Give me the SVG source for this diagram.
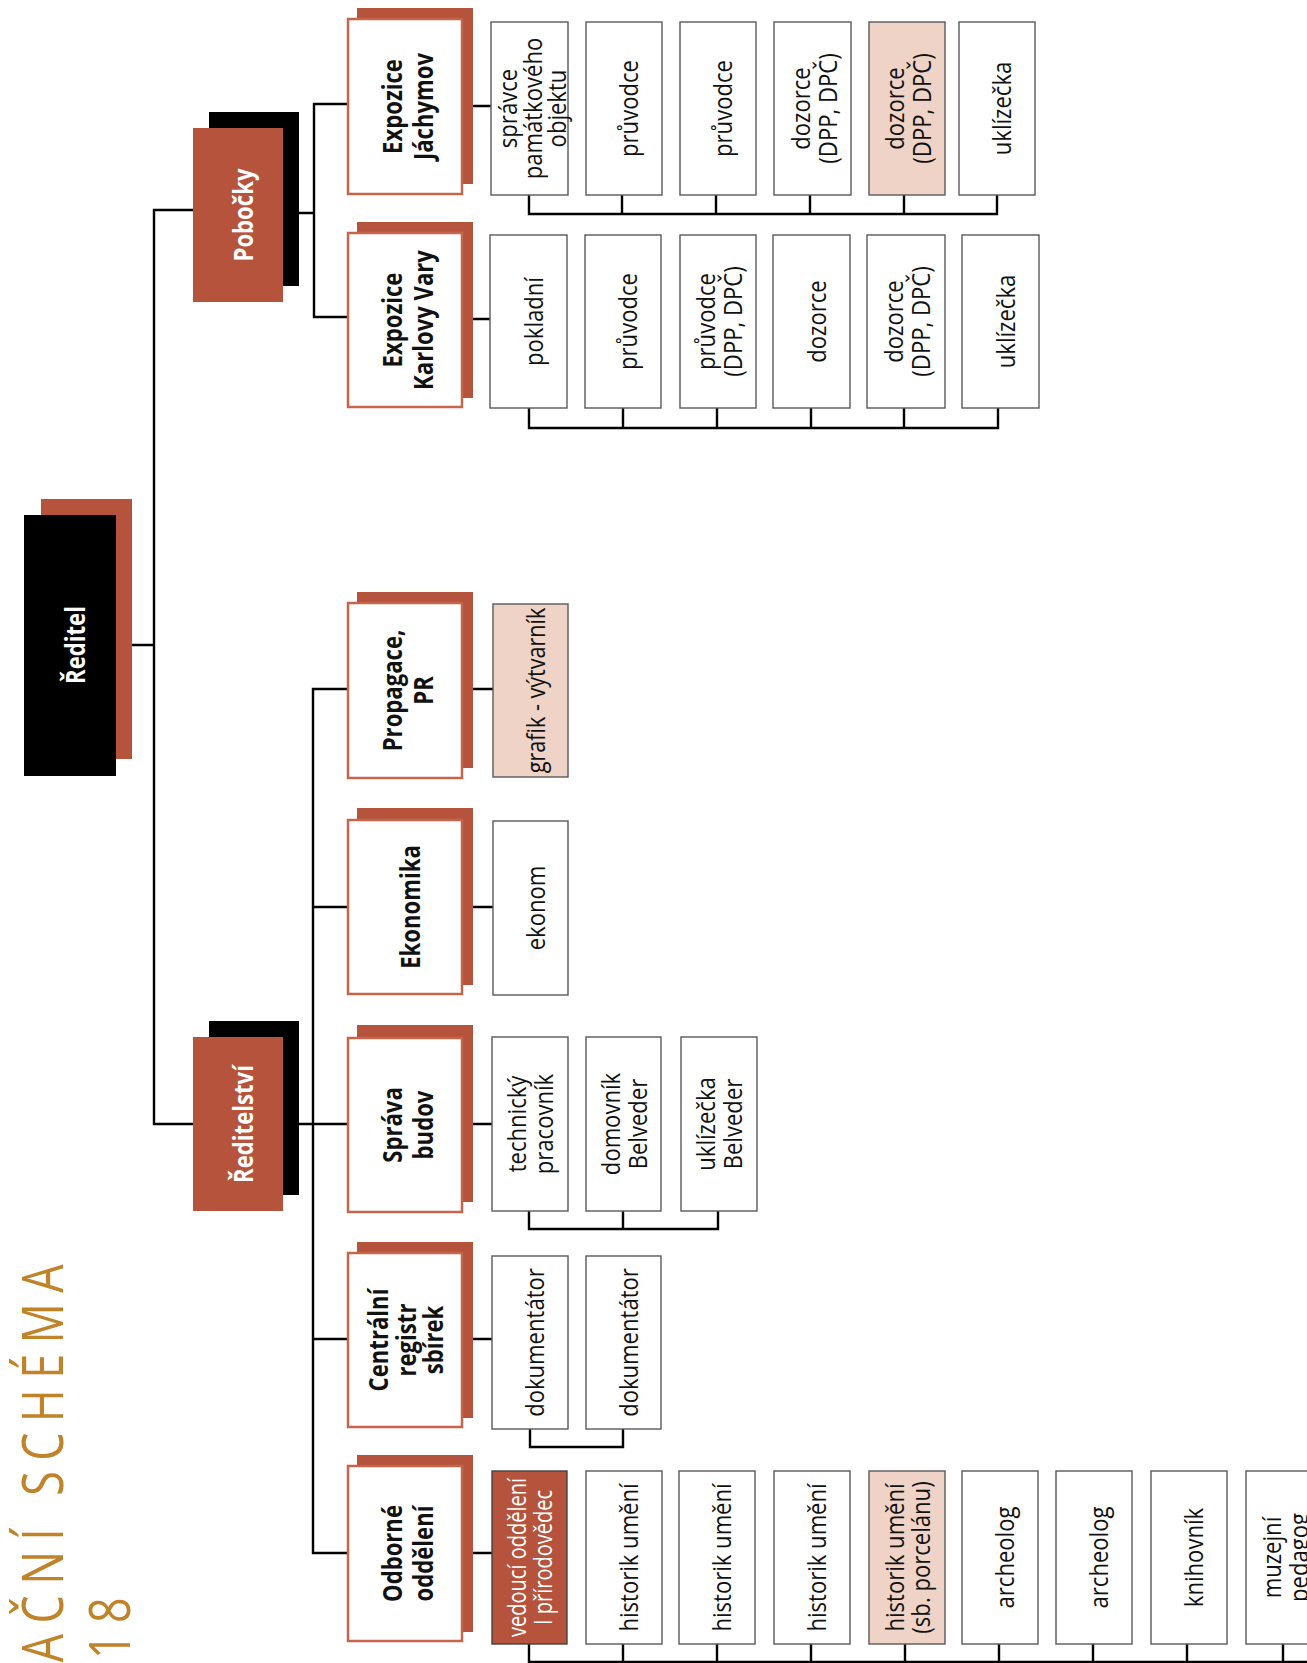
<svg xmlns="http://www.w3.org/2000/svg" width="1307" height="1663" viewBox="0 0 1307 1663">
<style>
.ln{stroke:#000;stroke-width:2.4;fill:none;stroke-linecap:square}
.dept{fill:#fff;stroke:#C5654C;stroke-width:2.5}
.sh{fill:#B5533C}
.blk{fill:#000}
.red{fill:#B5533C}
.ch{fill:#fff;stroke:#5a5a5a;stroke-width:1.4}
.pk{fill:#EFD3C6;stroke:#5a5a5a;stroke-width:1.4}
.chr{fill:#B5533C;stroke:#444;stroke-width:1.4}
text{font-family:"Open Sans","Noto Sans","DejaVu Sans",sans-serif;text-anchor:middle}
.t{font-size:26px;fill:#111}
.tw{font-size:26px;fill:#fff}
.b{font-size:27px;font-weight:bold;fill:#111}
.bw{font-size:27px;font-weight:bold;fill:#fff}
.title{font-size:56px;font-weight:400;fill:#C0832A;letter-spacing:13px;text-anchor:end}
</style>

<g id="title">
<text class="title" transform="translate(63,1254) rotate(-90) scale(0.8,1)">AČNÍ SCHÉMA</text>
<text class="title" transform="translate(130,1587) rotate(-90) scale(0.8,1)">18</text>
</g>

<g id="connectors">
<path class="ln" d="M132,645H154M154,210V1124M154,210H193M154,1124H193"/>
<path class="ln" d="M299,213H314M314,104V317M314,104H347M314,317H347"/>
<path class="ln" d="M473,106H491M529,195V214M622,195V214M716,195V214M810,195V214M904,195V214M997,195V214M529,214H997"/>
<path class="ln" d="M473,319H490M529,408V428M623,408V428M717,408V428M811,408V428M904,408V428M998,408V428M529,428H998"/>
<path class="ln" d="M299,1124H313M313,689V1553M313,689H347M313,907H347M313,1124H347M313,1339H347M313,1553H347"/>
<path class="ln" d="M473,689H493M473,907H493M473,1124H492M473,1339H492M473,1553H492"/>
<path class="ln" d="M529,1211V1229M623,1211V1229M718,1211V1229M529,1229H718"/>
<path class="ln" d="M530,1429V1447M623,1429V1447M530,1447H623"/>
<path class="ln" d="M529,1644V1662M623,1644V1662M717,1644V1662M811,1644V1662M905,1644V1662M999,1644V1662M1093,1644V1662M1187,1644V1662M1283,1644V1662M529,1662H1310"/>
</g>

<g id="reditel">
<rect class="red" x="41" y="499" width="91" height="260"/>
<rect class="blk" x="24" y="515" width="92" height="261"/>
<text class="bw" transform="translate(85,645) rotate(-90) scale(0.82,1)">Ředitel</text>
</g>

<g id="pobocky">
<rect class="blk" x="209" y="112" width="90" height="174"/>
<rect class="red" x="193" y="128" width="90" height="174"/>
<text class="bw" transform="translate(253,215) rotate(-90) scale(0.82,1)">Pobočky</text>
</g>

<g id="reditelstvi">
<rect class="blk" x="209" y="1021" width="90" height="174"/>
<rect class="red" x="193" y="1037" width="90" height="174"/>
<text class="bw" transform="translate(253,1124) rotate(-90) scale(0.82,1)">Ředitelství</text>
</g>

<g id="exp-jachymov">
<rect class="sh" x="357" y="8" width="116" height="176"/>
<rect class="dept" x="348" y="19" width="114" height="175"/>
<text class="b" transform="translate(402,106.5) rotate(-90) scale(0.82,1)"><tspan x="0">Expozice</tspan><tspan x="0" dy="31">Jáchymov</tspan></text>
</g>

<g id="exp-kv">
<rect class="sh" x="357" y="222" width="116" height="176"/>
<rect class="dept" x="348" y="233" width="114" height="174"/>
<text class="b" transform="translate(402,320) rotate(-90) scale(0.82,1)"><tspan x="0">Expozice</tspan><tspan x="0" dy="31">Karlovy Vary</tspan></text>
</g>

<g id="propagace">
<rect class="sh" x="357" y="592" width="116" height="176"/>
<rect class="dept" x="348" y="603" width="114" height="175"/>
<text class="b" transform="translate(402,690.5) rotate(-90) scale(0.82,1)"><tspan x="0">Propagace,</tspan><tspan x="0" dy="31">PR</tspan></text>
</g>

<g id="ekonomika">
<rect class="sh" x="357" y="808" width="116" height="177"/>
<rect class="dept" x="348" y="820" width="114" height="174"/>
<text class="b" transform="translate(419.5,907) rotate(-90) scale(0.82,1)">Ekonomika</text>
</g>

<g id="sprava">
<rect class="sh" x="357" y="1025" width="116" height="177"/>
<rect class="dept" x="348" y="1038" width="114" height="174"/>
<text class="b" transform="translate(402,1125) rotate(-90) scale(0.82,1)"><tspan x="0">Správa</tspan><tspan x="0" dy="31">budov</tspan></text>
</g>

<g id="centralni">
<rect class="sh" x="357" y="1242" width="116" height="176"/>
<rect class="dept" x="348" y="1253" width="114" height="174"/>
<text class="b" transform="translate(388,1340) rotate(-90) scale(0.82,1)"><tspan x="0">Centrální</tspan><tspan x="0" dy="27.5">registr</tspan><tspan x="0" dy="27.5">sbírek</tspan></text>
</g>

<g id="odborne">
<rect class="sh" x="357" y="1455" width="116" height="177"/>
<rect class="dept" x="348" y="1466" width="114" height="175"/>
<text class="b" transform="translate(402,1553.5) rotate(-90) scale(0.82,1)"><tspan x="0">Odborné</tspan><tspan x="0" dy="31">oddělení</tspan></text>
</g>

<g id="j1"><rect class="ch" x="491" y="22" width="77" height="173"/><text class="t" transform="translate(517,108.5) rotate(-90) scale(0.85,1)"><tspan x="0">správce</tspan><tspan x="0" dy="24.5">památkového</tspan><tspan x="0" dy="24.5">objektu</tspan></text></g>
<g id="j2"><rect class="ch" x="586" y="22" width="76" height="173"/><text class="t" transform="translate(638,108.5) rotate(-90) scale(0.85,1)">průvodce</text></g>
<g id="j3"><rect class="ch" x="680" y="22" width="76" height="173"/><text class="t" transform="translate(732,108.5) rotate(-90) scale(0.85,1)">průvodce</text></g>
<g id="j4"><rect class="ch" x="774" y="22" width="77" height="173"/><text class="t" transform="translate(809.5,108.5) rotate(-90) scale(0.85,1)"><tspan x="0">dozorce</tspan><tspan x="0" dy="27">(DPP, DPČ)</tspan></text></g>
<g id="j5"><rect class="pk" x="869" y="22" width="76" height="173"/><text class="t" transform="translate(904,108.5) rotate(-90) scale(0.85,1)"><tspan x="0">dozorce</tspan><tspan x="0" dy="27">(DPP, DPČ)</tspan></text></g>
<g id="j6"><rect class="ch" x="959" y="22" width="76" height="173"/><text class="t" transform="translate(1011,108.5) rotate(-90) scale(0.85,1)">uklízečka</text></g>

<g id="k1"><rect class="ch" x="490" y="235" width="77" height="173"/><text class="t" transform="translate(542.5,321.5) rotate(-90) scale(0.85,1)">pokladní</text></g>
<g id="k2"><rect class="ch" x="585" y="235" width="76" height="173"/><text class="t" transform="translate(637,321.5) rotate(-90) scale(0.85,1)">průvodce</text></g>
<g id="k3"><rect class="ch" x="680" y="235" width="76" height="173"/><text class="t" transform="translate(715,321.5) rotate(-90) scale(0.85,1)"><tspan x="0">průvodce</tspan><tspan x="0" dy="27">(DPP, DPČ)</tspan></text></g>
<g id="k4"><rect class="ch" x="773" y="235" width="77" height="173"/><text class="t" transform="translate(825.5,321.5) rotate(-90) scale(0.85,1)">dozorce</text></g>
<g id="k5"><rect class="ch" x="867" y="235" width="78" height="173"/><text class="t" transform="translate(903,321.5) rotate(-90) scale(0.85,1)"><tspan x="0">dozorce</tspan><tspan x="0" dy="27">(DPP, DPČ)</tspan></text></g>
<g id="k6"><rect class="ch" x="962" y="235" width="77" height="173"/><text class="t" transform="translate(1014.5,321.5) rotate(-90) scale(0.85,1)">uklízečka</text></g>

<g id="grafik"><rect class="pk" x="493" y="604" width="75" height="173"/><text class="t" transform="translate(544.5,690.5) rotate(-90) scale(0.83,1)">grafik - výtvarník</text></g>
<g id="ekonom"><rect class="ch" x="493" y="821" width="75" height="174"/><text class="t" transform="translate(544.5,908) rotate(-90) scale(0.85,1)">ekonom</text></g>

<g id="s1"><rect class="ch" x="492" y="1037" width="76" height="174"/><text class="t" transform="translate(526,1124) rotate(-90) scale(0.85,1)"><tspan x="0">technický</tspan><tspan x="0" dy="27">pracovník</tspan></text></g>
<g id="s2"><rect class="ch" x="586" y="1037" width="75" height="174"/><text class="t" transform="translate(619.5,1124) rotate(-90) scale(0.85,1)"><tspan x="0">domovník</tspan><tspan x="0" dy="27">Belveder</tspan></text></g>
<g id="s3"><rect class="ch" x="681" y="1037" width="76" height="174"/><text class="t" transform="translate(715,1124) rotate(-90) scale(0.85,1)"><tspan x="0">uklízečka</tspan><tspan x="0" dy="27">Belveder</tspan></text></g>

<g id="c1"><rect class="ch" x="492" y="1256" width="76" height="173"/><text class="t" transform="translate(544,1342.5) rotate(-90) scale(0.85,1)">dokumentátor</text></g>
<g id="c2"><rect class="ch" x="586" y="1256" width="75" height="173"/><text class="t" transform="translate(637.5,1342.5) rotate(-90) scale(0.85,1)">dokumentátor</text></g>

<g id="o1"><rect class="chr" x="492" y="1471" width="75" height="173"/><text class="tw" transform="translate(526,1557.5) rotate(-90) scale(0.77,1)"><tspan x="0">vedoucí oddělení</tspan><tspan x="0" dy="26">I přírodovědec</tspan></text></g>
<g id="o2"><rect class="ch" x="586" y="1471" width="76" height="173"/><text class="t" transform="translate(638,1557.5) rotate(-90) scale(0.85,1)">historik umění</text></g>
<g id="o3"><rect class="ch" x="679" y="1471" width="76" height="173"/><text class="t" transform="translate(731,1557.5) rotate(-90) scale(0.85,1)">historik umění</text></g>
<g id="o4"><rect class="ch" x="774" y="1471" width="76" height="173"/><text class="t" transform="translate(826,1557.5) rotate(-90) scale(0.85,1)">historik umění</text></g>
<g id="o5"><rect class="pk" x="869" y="1471" width="76" height="173"/><text class="t" transform="translate(904,1557.5) rotate(-90) scale(0.85,1)"><tspan x="0">historik umění</tspan><tspan x="0" dy="26">(sb. porcelánu)</tspan></text></g>
<g id="o6"><rect class="ch" x="962" y="1471" width="76" height="173"/><text class="t" transform="translate(1014,1557.5) rotate(-90) scale(0.85,1)">archeolog</text></g>
<g id="o7"><rect class="ch" x="1056" y="1471" width="76" height="173"/><text class="t" transform="translate(1108,1557.5) rotate(-90) scale(0.85,1)">archeolog</text></g>
<g id="o8"><rect class="ch" x="1151" y="1471" width="76" height="173"/><text class="t" transform="translate(1203,1557.5) rotate(-90) scale(0.85,1)">knihovník</text></g>
<g id="o9"><rect class="ch" x="1246" y="1471" width="76" height="173"/><text class="t" transform="translate(1281,1557.5) rotate(-90) scale(0.85,1)"><tspan x="0">muzejní</tspan><tspan x="0" dy="27">pedagog</tspan></text></g>
</svg>
